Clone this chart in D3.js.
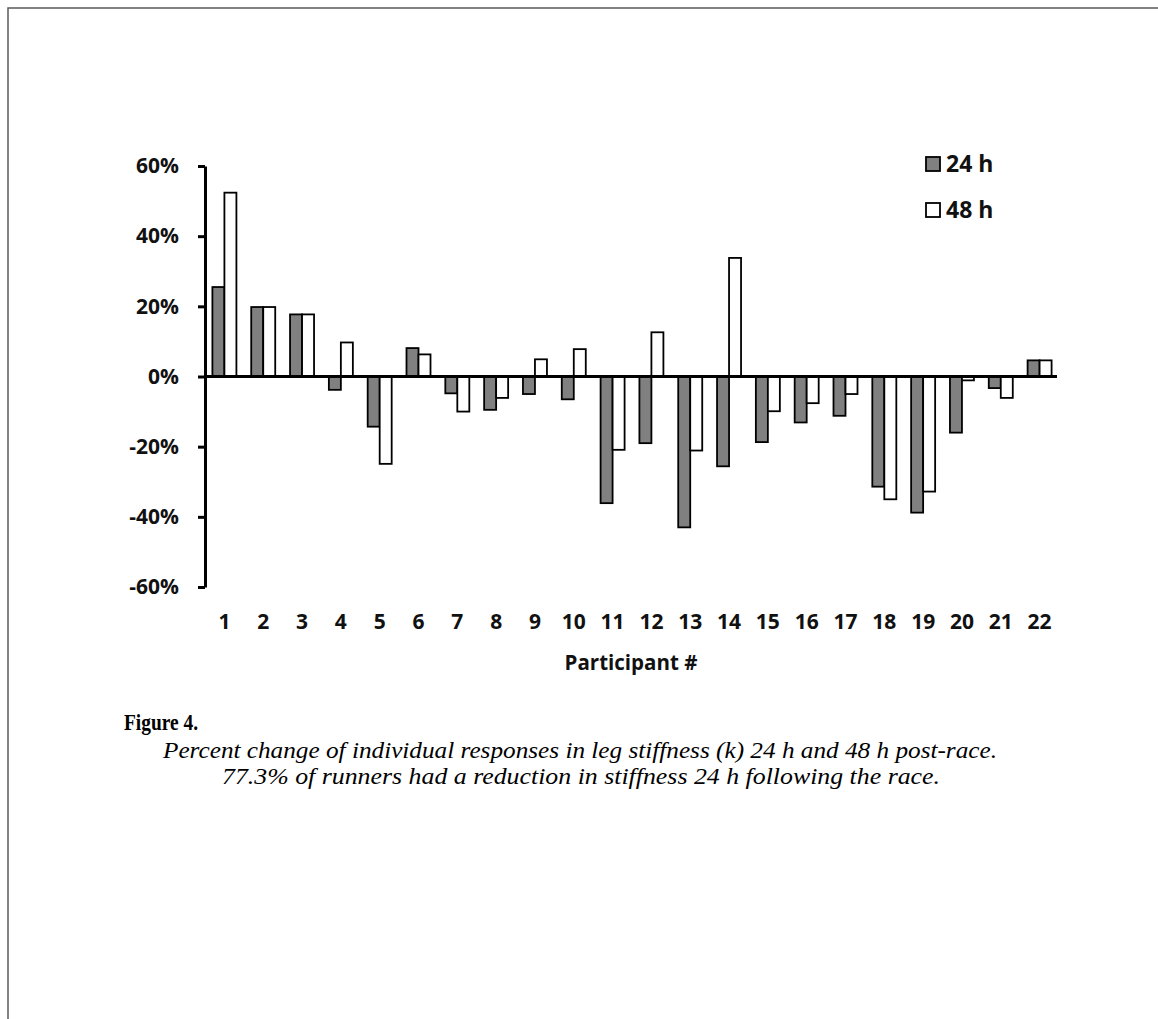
<!DOCTYPE html>
<html>
<head>
<meta charset="utf-8">
<script src="https://cdn.jsdelivr.net/npm/d3@7/dist/d3.min.js"></script>
<style>
  html, body { margin: 0; padding: 0; background: #fff; }
  svg { display: block; }
</style>
</head>
<body>
<svg id="chart" width="1158" height="1019"></svg>
<script>
const participants = d3.range(1, 23).map(String);
const series24h = [25.5, 19.8, 17.7, -3.8, -14.3, 8.1, -4.8, -9.5, -5.0, -6.5, -36.1, -19.0, -43.0, -25.6, -18.7, -13.1, -11.2, -31.4, -38.8, -16.0, -3.3, 4.6];
const series48h = [52.4, 19.8, 17.7, 9.7, -24.9, 6.3, -10.0, -6.1, 4.9, 7.8, -20.9, 12.6, -21.1, 33.8, -9.9, -7.6, -5.0, -35.0, -32.8, -1.1, -6.1, 4.6];
const yTicks = [-60, -40, -20, 0, 20, 40, 60];
const seriesNames = ["24 h", "48 h"];
const seriesFill = ["#808080", "#ffffff"];

const svg = d3.select("#chart");

// page border (top and left edges)
svg.append("path")
  .attr("d", "M8,1019 L8,8 L1158,8")
  .attr("fill", "none")
  .attr("stroke", "#5a5a5a")
  .attr("stroke-width", 1.5);

const x = d3.scaleBand().domain(participants).range([205, 1059]).padding(0);
const y = d3.scaleLinear().domain([-60, 60]).range([587, 166]);
const barW = 12;

const font = "'Open Sans', 'Noto Sans', sans-serif";

// bars
const g = svg.append("g");
[series24h, series48h].forEach((vals, si) => {
  g.selectAll(null)
    .data(vals.map((v, i) => ({ p: participants[i], v })))
    .enter().append("rect")
    .attr("x", d => x(d.p) + x.bandwidth() / 2 - barW + si * barW)
    .attr("width", barW)
    .attr("y", d => Math.min(y(d.v), y(0)))
    .attr("height", d => Math.abs(y(d.v) - y(0)))
    .attr("fill", seriesFill[si])
    .attr("stroke", "#000")
    .attr("stroke-width", 1.8);
});

// y axis
const yAxis = svg.append("g")
  .attr("transform", `translate(${x.range()[0]},0)`)
  .call(d3.axisLeft(y).tickValues(yTicks).tickSize(7).tickSizeOuter(0).tickPadding(19)
    .tickFormat(d => d + "%"));
yAxis.select(".domain").attr("stroke", "#000").attr("stroke-width", 3);
yAxis.selectAll(".tick line").attr("stroke", "#000").attr("stroke-width", 3);
yAxis.selectAll(".tick text")
  .attr("font-family", font).attr("font-weight", 700).attr("font-size", 21)
  .attr("fill", "#111");

// x axis at zero
const xAxis = svg.append("g")
  .attr("transform", `translate(0,${y(0)})`)
  .call(d3.axisBottom(x).tickSize(0).tickSizeOuter(0).tickFormat(() => ""));
xAxis.select(".domain").attr("stroke", "#000").attr("stroke-width", 3)
  .attr("d", `M${x.range()[0]},0H${x.range()[1] - 2}`);

// category labels below the plot
svg.append("g").selectAll("text")
  .data(participants).enter().append("text")
  .attr("x", d => x(d) + x.bandwidth() / 2)
  .attr("y", 629)
  .attr("text-anchor", "middle")
  .attr("font-family", font).attr("font-weight", 700).attr("font-size", 21)
  .attr("fill", "#111")
  .text(d => d);

svg.append("text")
  .attr("x", 631).attr("y", 670)
  .attr("text-anchor", "middle")
  .attr("font-family", font).attr("font-weight", 700).attr("font-size", 20.5)
  .attr("fill", "#111")
  .text("Participant #");

// legend
seriesNames.forEach((name, i) => {
  const ly = 157 + i * 46;
  svg.append("rect")
    .attr("x", 926).attr("y", ly).attr("width", 14).attr("height", 14)
    .attr("fill", seriesFill[i]).attr("stroke", "#000").attr("stroke-width", 1.8);
  svg.append("text")
    .attr("x", 946).attr("y", ly + 15)
    .attr("font-family", font).attr("font-weight", 700).attr("font-size", 23)
    .attr("fill", "#111")
    .text(name);
});

// caption
const serif = "'Liberation Serif', 'DejaVu Serif', serif";
svg.append("text")
  .attr("x", 124).attr("y", 730)
  .attr("font-family", serif).attr("font-weight", 700).attr("font-size", 23)
  .attr("textLength", 74).attr("lengthAdjust", "spacingAndGlyphs")
  .attr("fill", "#000")
  .text("Figure 4.");
svg.append("text")
  .attr("x", 580).attr("y", 758)
  .attr("text-anchor", "middle")
  .attr("font-family", serif).attr("font-style", "italic").attr("font-size", 23)
  .attr("textLength", 834).attr("lengthAdjust", "spacingAndGlyphs")
  .attr("fill", "#000")
  .text("Percent change of individual responses in leg stiffness (k) 24 h and 48 h post-race.");
svg.append("text")
  .attr("x", 581).attr("y", 784)
  .attr("text-anchor", "middle")
  .attr("font-family", serif).attr("font-style", "italic").attr("font-size", 23)
  .attr("textLength", 718).attr("lengthAdjust", "spacingAndGlyphs")
  .attr("fill", "#000")
  .text("77.3% of runners had a reduction in stiffness 24 h following the race.");
</script>
</body>
</html>
